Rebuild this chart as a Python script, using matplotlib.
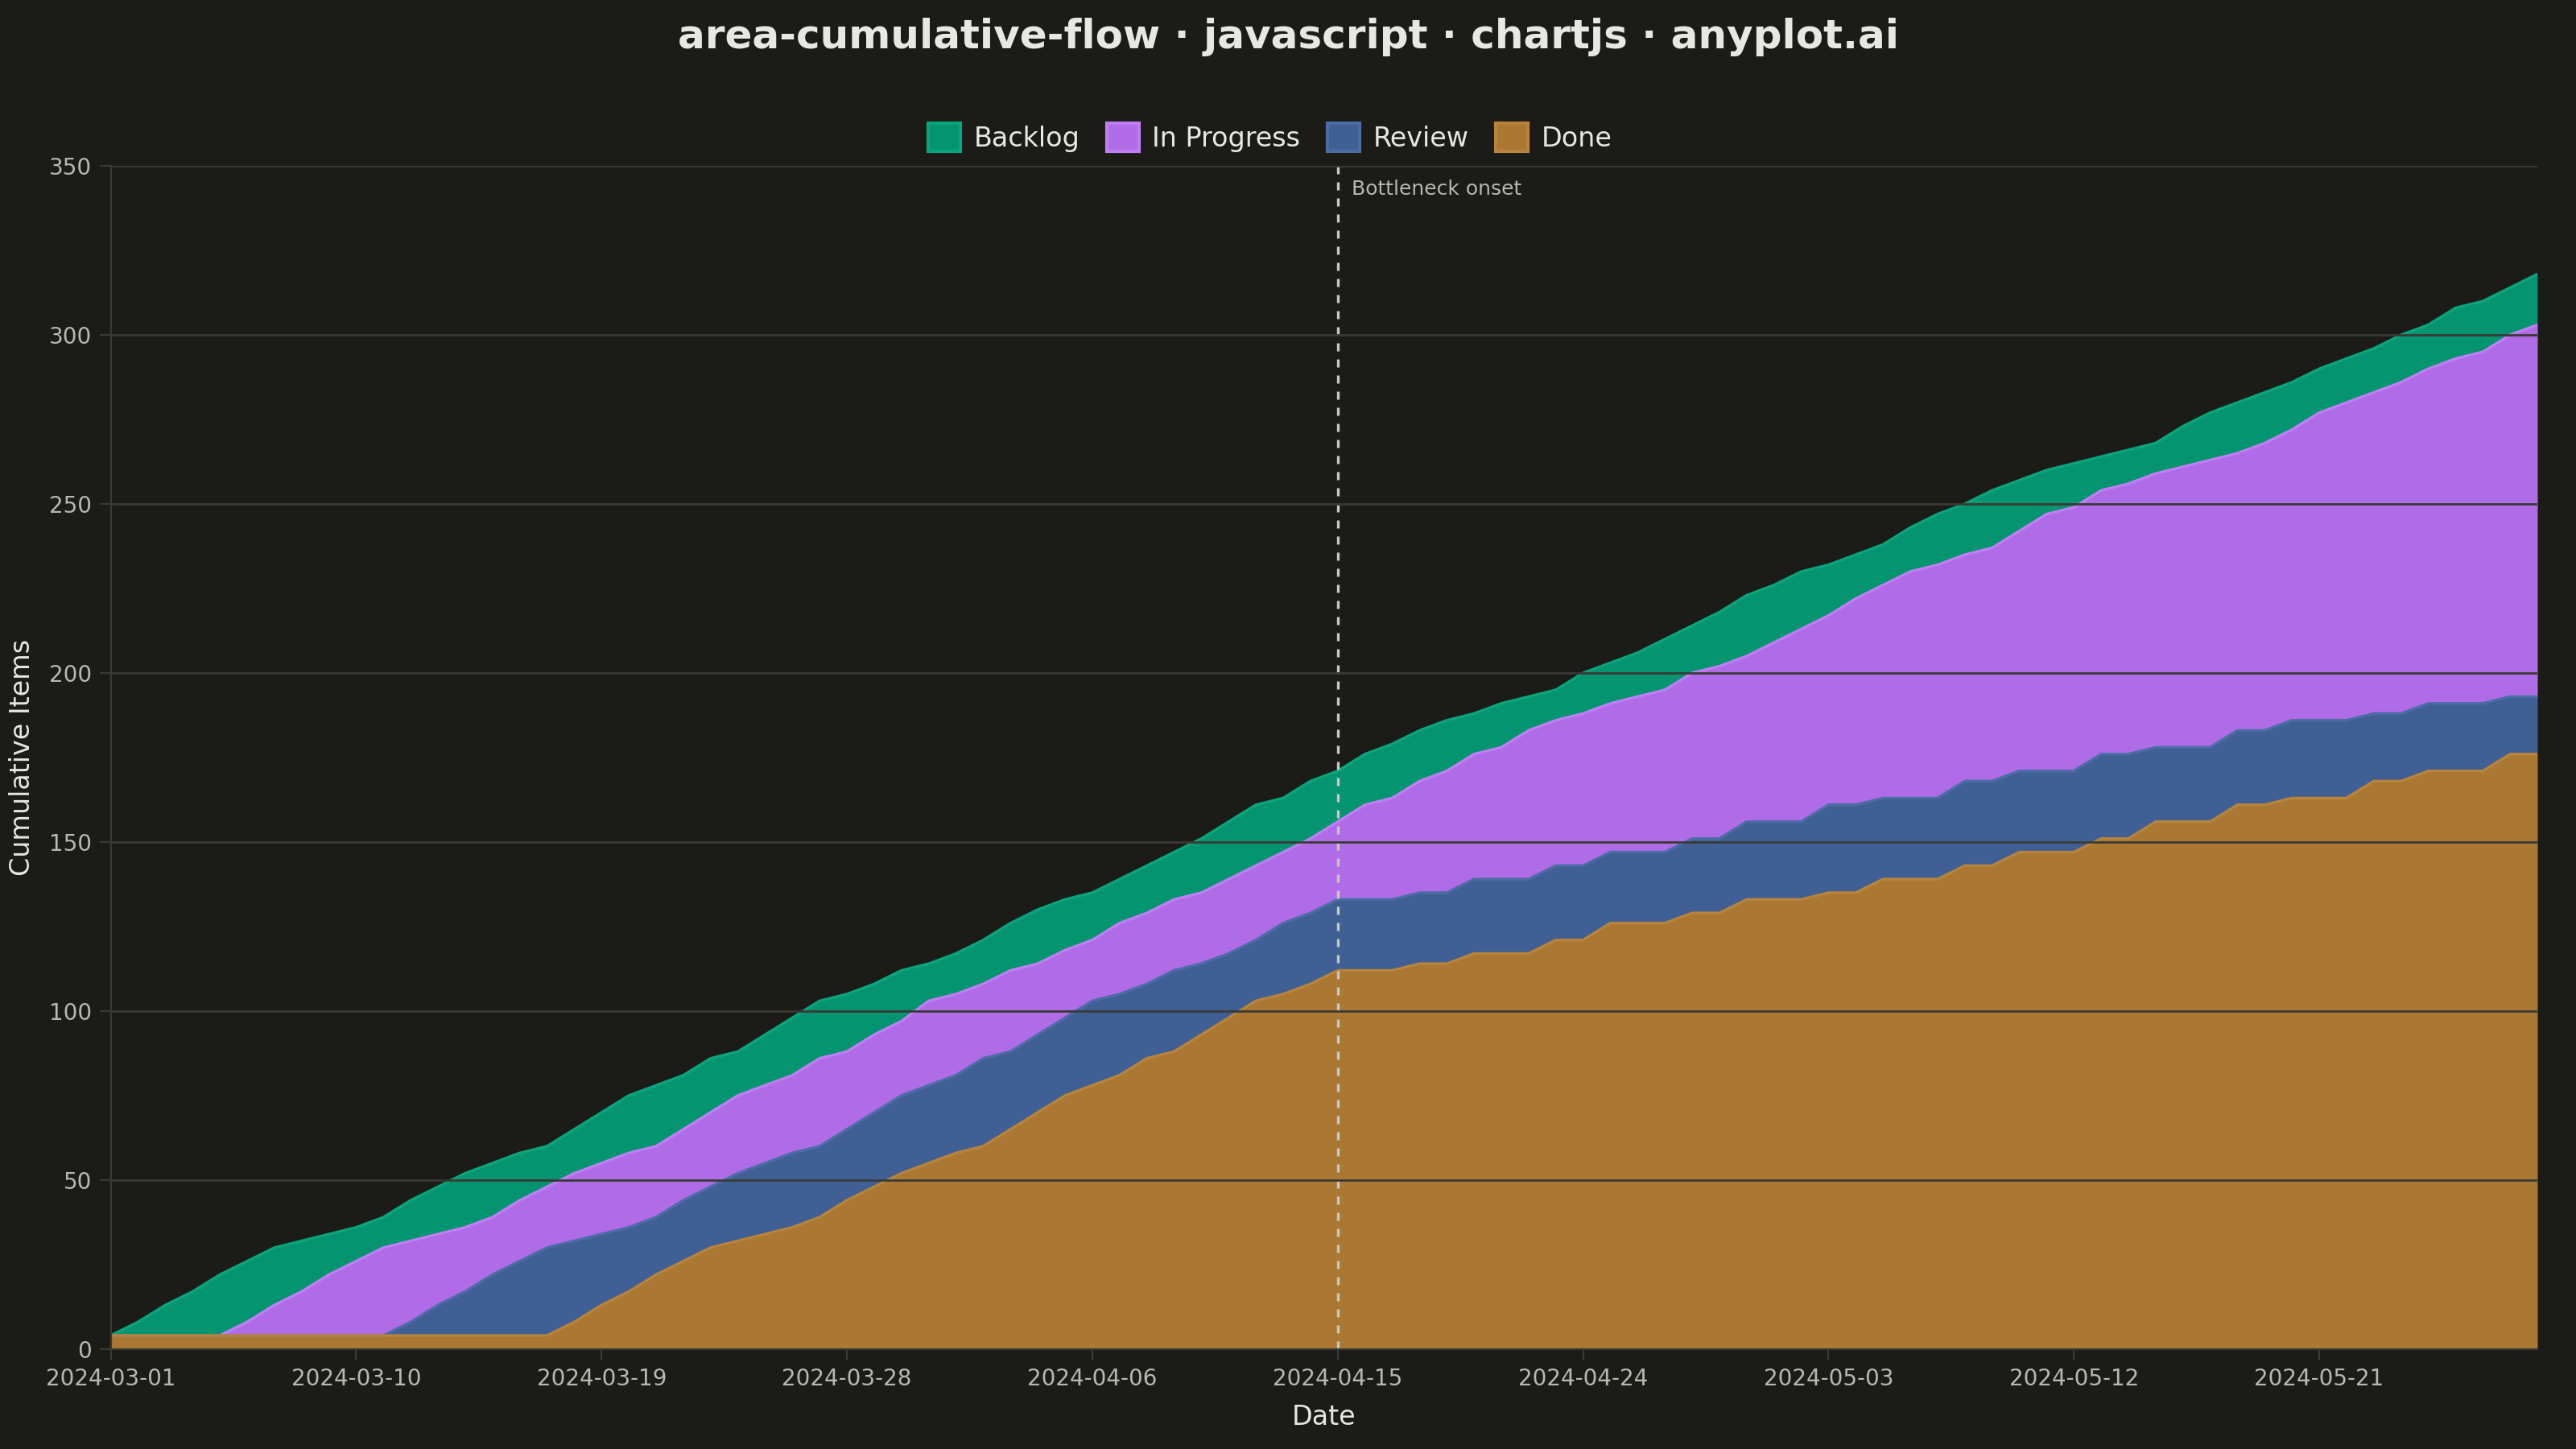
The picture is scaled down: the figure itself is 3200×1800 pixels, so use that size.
import pandas as pd
import matplotlib.pyplot as plt
import matplotlib.dates as mdates
from matplotlib.patches import Patch

# cumulative top of each stage (items that reached the stage), one value per day
dates = pd.date_range('2024-03-01', '2024-05-29', freq='D')

done = ([4] * 17
        + [8, 13, 17, 22, 26, 30, 32, 34, 36, 39, 44, 48, 52, 55]
        + [58, 60, 65, 70, 75, 78, 81, 86, 88, 93, 98, 103, 105, 108, 112]
        + [112, 112, 114, 114, 117, 117, 117, 121, 121, 126, 126, 126, 129, 129, 133]
        + [133, 133, 135, 135, 139, 139, 139, 143, 143, 147, 147, 147, 151, 151, 156,
           156, 156, 161, 161, 163, 163, 163, 168, 168, 171, 171, 171, 176, 176])

review = ([4] * 11
          + [8, 13, 17, 22, 26, 30, 32, 34, 36, 39, 44, 48, 52, 55, 58, 60, 65, 70, 75, 78]
          + [81, 86, 88, 93, 98, 103, 105, 108, 112, 114, 117, 121, 126, 129, 133]
          + [133, 133, 135, 135, 139, 139, 139, 143, 143, 147, 147, 147, 151, 151, 156]
          + [156, 156, 161, 161, 163, 163, 163, 168, 168, 171, 171, 171, 176, 176, 178,
             178, 178, 183, 183, 186, 186, 186, 188, 188, 191, 191, 191, 193, 193])

in_progress = ([4] * 5
               + [8, 13, 17, 22, 26, 30, 32, 34, 36, 39, 44, 48, 52, 55, 58, 60, 65, 70, 75,
                  78, 81, 86, 88, 93, 97, 103]
               + [105, 108, 112, 114, 118, 121, 126, 129, 133, 135, 139, 143, 147, 151, 156]
               + [161, 163, 168, 171, 176, 178, 183, 186, 188, 191, 193, 195, 200, 202, 205]
               + [209, 213, 217, 222, 226, 230, 232, 235, 237, 242, 247, 249, 254, 256, 259,
                  261, 263, 265, 268, 272, 277, 280, 283, 286, 290, 293, 295, 300, 303])

backlog = ([4, 8, 13, 17, 22, 26, 30, 32, 34, 36, 39, 44, 48, 52, 55, 58, 60, 65, 70, 75,
            78, 81, 86, 88, 93, 98, 103, 105, 108, 112, 114]
           + [117, 121, 126, 130, 133, 135, 139, 143, 147, 151, 156, 161, 163, 168, 171,
              176, 179, 183, 186, 188, 191, 193, 195, 200, 203, 206, 210, 214, 218, 223]
           + [226, 230, 232, 235, 238, 243, 247, 250, 254, 257, 260, 262, 264, 266, 268,
              273, 277, 280, 283, 286, 290, 293, 296, 300, 303, 308, 310, 314, 318])

bottleneck_date = pd.Timestamp('2024-04-15')

BG = '#1b1b17'
TEXT = '#e8e8e2'
MUTED = '#b8b8b0'
GRID = '#3a3a35'

layers = [
    ('Backlog', backlog, in_progress, '#049470', '#0aa57c'),
    ('In Progress', in_progress, review, '#b06ce7', '#c07ef5'),
    ('Review', review, done, '#405f94', '#4c6ca6'),
    ('Done', done, [0] * len(done), '#aa7833', '#b8843c'),
]

fig = plt.figure(figsize=(16, 9), dpi=200, facecolor=BG)
ax = fig.add_axes([0.043, 0.069, 0.942, 0.8165])
ax.set_facecolor(BG)

for name, top, bottom, fill, edge in layers:
    ax.fill_between(dates, bottom, top, color=fill, linewidth=0)
    ax.plot(dates, top, color=edge, linewidth=1.2)

ax.axvline(bottleneck_date, color='#c8c8c0', linestyle=(0, (3, 3)), linewidth=1.2)
ax.text(bottleneck_date + pd.Timedelta(hours=12), 346, 'Bottleneck onset',
        color=MUTED, fontsize=9, va='top', ha='left')

ax.set_xlim(dates[0], dates[-1])
ax.set_ylim(0, 350)
ax.set_yticks(range(0, 351, 50))
ax.xaxis.set_major_locator(mdates.DayLocator(bymonthday=None, interval=9))
ax.set_xticks(pd.date_range('2024-03-01', '2024-05-29', freq='9D'))
ax.xaxis.set_major_formatter(mdates.DateFormatter('%Y-%m-%d'))
ax.grid(axis='y', color=GRID, linewidth=1)
ax.set_axisbelow(False)
for g in ax.get_ygridlines():
    g.set_zorder(0.5)
ax.tick_params(colors=MUTED, labelsize=10, length=5, color=GRID)
for side in ['top', 'right']:
    ax.spines[side].set_visible(False)
for side in ['left', 'bottom']:
    ax.spines[side].set_color(GRID)

ax.set_xlabel('Date', color=TEXT, fontsize=12, labelpad=6)
ax.set_ylabel('Cumulative Items', color=TEXT, fontsize=12, labelpad=6)

fig.suptitle('area-cumulative-flow · javascript · chartjs · anyplot.ai',
             color=TEXT, fontsize=18, fontweight='bold', y=0.988)

handles = [Patch(facecolor=fill, edgecolor=edge, linewidth=1.5, label=name)
           for name, _, _, fill, edge in layers]
leg = fig.legend(handles=handles, loc='center', bbox_to_anchor=(0.493, 0.905), ncol=4,
                 frameon=False, fontsize=12, handlelength=1.2, handleheight=1.2,
                 columnspacing=1.0, handletextpad=0.5)
for t in leg.get_texts():
    t.set_color(TEXT)

fig.savefig('out.png', dpi=200, facecolor=BG)
